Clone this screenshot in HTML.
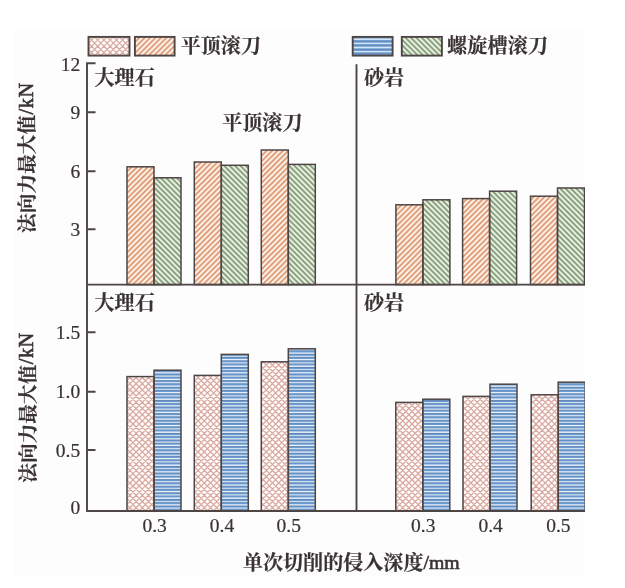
<!DOCTYPE html>
<html lang="zh"><head><meta charset="utf-8"><title>法向力最大值 - 单次切削的侵入深度</title>
<style>
html,body{margin:0;padding:0;background:#fff;}
body{width:625px;height:588px;overflow:hidden;position:relative;font-family:"Liberation Serif",serif;}
svg{display:block;position:absolute;left:0;top:0;}
svg text{font-family:"Liberation Serif","Noto Serif CJK SC",serif;stroke:#3a3232;stroke-width:0.2px;}
svg text.b{stroke-width:0.6px;}
svg text.cjk{font-weight:bold;stroke-width:0.2px;}
.sr{position:absolute;left:0;top:0;width:1px;height:1px;overflow:hidden;opacity:0;font-size:1px;font-family:"Liberation Serif",serif;}
</style></head><body>
<svg width="625" height="588" viewBox="0 0 625 588">
<defs><clipPath id="cpo"><rect x="127" y="166.8" width="27" height="117.8" /><rect x="194.3" y="162" width="27" height="122.6" /><rect x="261.3" y="150" width="27" height="134.6" /><rect x="395.9" y="204.8" width="27" height="79.8" /><rect x="462.6" y="198.6" width="27" height="86" /><rect x="530.5" y="196.2" width="27" height="88.4" /><rect x="134.9" y="36.9" width="39.7" height="18.7" /></clipPath><clipPath id="cpg"><rect x="154" y="177.8" width="27" height="106.8" /><rect x="221.3" y="165.3" width="27" height="119.3" /><rect x="288.3" y="164.4" width="27" height="120.2" /><rect x="422.9" y="199.8" width="27" height="84.8" /><rect x="489.6" y="191.2" width="27" height="93.4" /><rect x="557.5" y="188" width="27" height="96.6" /><rect x="401.8" y="36.9" width="40.1" height="18.7" /></clipPath><clipPath id="cpp"><rect x="127" y="376.6" width="27" height="134.4" /><rect x="194.3" y="375.4" width="27" height="135.6" /><rect x="261.3" y="361.8" width="27" height="149.2" /><rect x="395.8" y="402.4" width="27" height="108.6" /><rect x="463" y="396.4" width="27" height="114.6" /><rect x="531.2" y="394.8" width="27" height="116.2" /><rect x="88.5" y="36.9" width="41" height="18.7" /></clipPath><clipPath id="cpb"><rect x="154" y="370.2" width="27" height="140.8" /><rect x="221.3" y="354.4" width="27" height="156.6" /><rect x="288.3" y="348.8" width="27" height="162.2" /><rect x="422.8" y="399.2" width="27" height="111.8" /><rect x="490" y="384.2" width="27" height="126.8" /><rect x="558.2" y="382.2" width="27" height="128.8" /></clipPath><clipPath id="cpbl"><rect x="352.7" y="36.9" width="39.9" height="18.7" /></clipPath></defs>
<rect width="625" height="588" fill="#ffffff"/><rect x="14" y="30" width="571" height="546" fill="#fdfdfd"/>
<g fill="#fdf3ea"><rect x="127" y="166.8" width="27" height="117.8" /><rect x="194.3" y="162" width="27" height="122.6" /><rect x="261.3" y="150" width="27" height="134.6" /><rect x="395.9" y="204.8" width="27" height="79.8" /><rect x="462.6" y="198.6" width="27" height="86" /><rect x="530.5" y="196.2" width="27" height="88.4" /><rect x="134.9" y="36.9" width="39.7" height="18.7" /></g>
<g clip-path="url(#cpo)" fill="none"><path d="M116.2,55.6L134.9,36.9M121.6,55.6L140.3,36.9M127,55.6L145.7,36.9M132.4,55.6L151.1,36.9M137.8,55.6L156.5,36.9M143.2,55.6L161.9,36.9M148.6,55.6L167.3,36.9M154,55.6L172.7,36.9M159.4,55.6L178.1,36.9M164.8,55.6L183.5,36.9M170.2,55.6L188.9,36.9M-7.6,284.6L127,150M-2.2,284.6L132.4,150M3.2,284.6L137.8,150M8.6,284.6L143.2,150M14,284.6L148.6,150M19.4,284.6L154,150M24.8,284.6L159.4,150M30.2,284.6L164.8,150M35.6,284.6L170.2,150M41,284.6L175.6,150M46.4,284.6L181,150M51.8,284.6L186.4,150M57.2,284.6L191.8,150M62.6,284.6L197.2,150M68,284.6L202.6,150M73.4,284.6L208,150M78.8,284.6L213.4,150M84.2,284.6L218.8,150M89.6,284.6L224.2,150M95,284.6L229.6,150M100.4,284.6L235,150M105.8,284.6L240.4,150M111.2,284.6L245.8,150M116.6,284.6L251.2,150M122,284.6L256.6,150M127.4,284.6L262,150M132.8,284.6L267.4,150M138.2,284.6L272.8,150M143.6,284.6L278.2,150M149,284.6L283.6,150M154.4,284.6L289,150M159.8,284.6L294.4,150M165.2,284.6L299.8,150M170.6,284.6L305.2,150M176,284.6L310.6,150M181.4,284.6L316,150M186.8,284.6L321.4,150M192.2,284.6L326.8,150M197.6,284.6L332.2,150M203,284.6L337.6,150M208.4,284.6L343,150M213.8,284.6L348.4,150M219.2,284.6L353.8,150M224.6,284.6L359.2,150M230,284.6L364.6,150M235.4,284.6L370,150M240.8,284.6L375.4,150M246.2,284.6L380.8,150M251.6,284.6L386.2,150M257,284.6L391.6,150M262.4,284.6L397,150M267.8,284.6L402.4,150M273.2,284.6L407.8,150M278.6,284.6L413.2,150M284,284.6L418.6,150M289.4,284.6L424,150M294.8,284.6L429.4,150M300.2,284.6L434.8,150M305.6,284.6L440.2,150M311,284.6L445.6,150M316.4,284.6L451,150M321.8,284.6L456.4,150M327.2,284.6L461.8,150M332.6,284.6L467.2,150M338,284.6L472.6,150M343.4,284.6L478,150M348.8,284.6L483.4,150M354.2,284.6L488.8,150M359.6,284.6L494.2,150M365,284.6L499.6,150M370.4,284.6L505,150M375.8,284.6L510.4,150M381.2,284.6L515.8,150M386.6,284.6L521.2,150M392,284.6L526.6,150M397.4,284.6L532,150M402.8,284.6L537.4,150M408.2,284.6L542.8,150M413.6,284.6L548.2,150M419,284.6L553.6,150M424.4,284.6L559,150M429.8,284.6L564.4,150M435.2,284.6L569.8,150M440.6,284.6L575.2,150M446,284.6L580.6,150M451.4,284.6L586,150M456.8,284.6L591.4,150M462.2,284.6L596.8,150M467.6,284.6L602.2,150M473,284.6L607.6,150M478.4,284.6L613,150M483.8,284.6L618.4,150M489.2,284.6L623.8,150M494.6,284.6L629.2,150M500,284.6L634.6,150M505.4,284.6L640,150M510.8,284.6L645.4,150M516.2,284.6L650.8,150M521.6,284.6L656.2,150M527,284.6L661.6,150M532.4,284.6L667,150M537.8,284.6L672.4,150M543.2,284.6L677.8,150M548.6,284.6L683.2,150M554,284.6L688.6,150" stroke="#e2a17e" stroke-width="2"/></g>
<g fill="#e4f1dc"><rect x="154" y="177.8" width="27" height="106.8" /><rect x="221.3" y="165.3" width="27" height="119.3" /><rect x="288.3" y="164.4" width="27" height="120.2" /><rect x="422.9" y="199.8" width="27" height="84.8" /><rect x="489.6" y="191.2" width="27" height="93.4" /><rect x="557.5" y="188" width="27" height="96.6" /><rect x="401.8" y="36.9" width="40.1" height="18.7" /></g>
<g clip-path="url(#cpg)" fill="none"><path d="M383.1,36.9L401.8,55.6M388.5,36.9L407.2,55.6M393.9,36.9L412.6,55.6M399.3,36.9L418,55.6M404.7,36.9L423.4,55.6M410.1,36.9L428.8,55.6M415.5,36.9L434.2,55.6M420.9,36.9L439.6,55.6M426.3,36.9L445,55.6M431.7,36.9L450.4,55.6M437.1,36.9L455.8,55.6M33.8,164.4L154,284.6M39.2,164.4L159.4,284.6M44.6,164.4L164.8,284.6M50,164.4L170.2,284.6M55.4,164.4L175.6,284.6M60.8,164.4L181,284.6M66.2,164.4L186.4,284.6M71.6,164.4L191.8,284.6M77,164.4L197.2,284.6M82.4,164.4L202.6,284.6M87.8,164.4L208,284.6M93.2,164.4L213.4,284.6M98.6,164.4L218.8,284.6M104,164.4L224.2,284.6M109.4,164.4L229.6,284.6M114.8,164.4L235,284.6M120.2,164.4L240.4,284.6M125.6,164.4L245.8,284.6M131,164.4L251.2,284.6M136.4,164.4L256.6,284.6M141.8,164.4L262,284.6M147.2,164.4L267.4,284.6M152.6,164.4L272.8,284.6M158,164.4L278.2,284.6M163.4,164.4L283.6,284.6M168.8,164.4L289,284.6M174.2,164.4L294.4,284.6M179.6,164.4L299.8,284.6M185,164.4L305.2,284.6M190.4,164.4L310.6,284.6M195.8,164.4L316,284.6M201.2,164.4L321.4,284.6M206.6,164.4L326.8,284.6M212,164.4L332.2,284.6M217.4,164.4L337.6,284.6M222.8,164.4L343,284.6M228.2,164.4L348.4,284.6M233.6,164.4L353.8,284.6M239,164.4L359.2,284.6M244.4,164.4L364.6,284.6M249.8,164.4L370,284.6M255.2,164.4L375.4,284.6M260.6,164.4L380.8,284.6M266,164.4L386.2,284.6M271.4,164.4L391.6,284.6M276.8,164.4L397,284.6M282.2,164.4L402.4,284.6M287.6,164.4L407.8,284.6M293,164.4L413.2,284.6M298.4,164.4L418.6,284.6M303.8,164.4L424,284.6M309.2,164.4L429.4,284.6M314.6,164.4L434.8,284.6M320,164.4L440.2,284.6M325.4,164.4L445.6,284.6M330.8,164.4L451,284.6M336.2,164.4L456.4,284.6M341.6,164.4L461.8,284.6M347,164.4L467.2,284.6M352.4,164.4L472.6,284.6M357.8,164.4L478,284.6M363.2,164.4L483.4,284.6M368.6,164.4L488.8,284.6M374,164.4L494.2,284.6M379.4,164.4L499.6,284.6M384.8,164.4L505,284.6M390.2,164.4L510.4,284.6M395.6,164.4L515.8,284.6M401,164.4L521.2,284.6M406.4,164.4L526.6,284.6M411.8,164.4L532,284.6M417.2,164.4L537.4,284.6M422.6,164.4L542.8,284.6M428,164.4L548.2,284.6M433.4,164.4L553.6,284.6M438.8,164.4L559,284.6M444.2,164.4L564.4,284.6M449.6,164.4L569.8,284.6M455,164.4L575.2,284.6M460.4,164.4L580.6,284.6M465.8,164.4L586,284.6M471.2,164.4L591.4,284.6M476.6,164.4L596.8,284.6M482,164.4L602.2,284.6M487.4,164.4L607.6,284.6M492.8,164.4L613,284.6M498.2,164.4L618.4,284.6M503.6,164.4L623.8,284.6M509,164.4L629.2,284.6M514.4,164.4L634.6,284.6M519.8,164.4L640,284.6M525.2,164.4L645.4,284.6M530.6,164.4L650.8,284.6M536,164.4L656.2,284.6M541.4,164.4L661.6,284.6M546.8,164.4L667,284.6M552.2,164.4L672.4,284.6M557.6,164.4L677.8,284.6M563,164.4L683.2,284.6M568.4,164.4L688.6,284.6M573.8,164.4L694,284.6M579.2,164.4L699.4,284.6" stroke="#8c9d81" stroke-width="1.85"/></g>
<g fill="#fffdfc"><rect x="127" y="376.6" width="27" height="134.4" /><rect x="194.3" y="375.4" width="27" height="135.6" /><rect x="261.3" y="361.8" width="27" height="149.2" /><rect x="395.8" y="402.4" width="27" height="108.6" /><rect x="463" y="396.4" width="27" height="114.6" /><rect x="531.2" y="394.8" width="27" height="116.2" /><rect x="88.5" y="36.9" width="41" height="18.7" /></g>
<g clip-path="url(#cpp)" fill="none"><path d="M69.8,55.6L88.5,36.9M76,55.6L94.7,36.9M82.2,55.6L100.9,36.9M88.4,55.6L107.1,36.9M94.6,55.6L113.3,36.9M100.8,55.6L119.5,36.9M107,55.6L125.7,36.9M113.2,55.6L131.9,36.9M119.4,55.6L138.1,36.9M125.6,55.6L144.3,36.9M69.8,36.9L88.5,55.6M76,36.9L94.7,55.6M82.2,36.9L100.9,55.6M88.4,36.9L107.1,55.6M94.6,36.9L113.3,55.6M100.8,36.9L119.5,55.6M107,36.9L125.7,55.6M113.2,36.9L131.9,55.6M119.4,36.9L138.1,55.6M125.6,36.9L144.3,55.6M-22.2,511L127,361.8M-16,511L133.2,361.8M-9.8,511L139.4,361.8M-3.6,511L145.6,361.8M2.6,511L151.8,361.8M8.8,511L158,361.8M15,511L164.2,361.8M21.2,511L170.4,361.8M27.4,511L176.6,361.8M33.6,511L182.8,361.8M39.8,511L189,361.8M46,511L195.2,361.8M52.2,511L201.4,361.8M58.4,511L207.6,361.8M64.6,511L213.8,361.8M70.8,511L220,361.8M77,511L226.2,361.8M83.2,511L232.4,361.8M89.4,511L238.6,361.8M95.6,511L244.8,361.8M101.8,511L251,361.8M108,511L257.2,361.8M114.2,511L263.4,361.8M120.4,511L269.6,361.8M126.6,511L275.8,361.8M132.8,511L282,361.8M139,511L288.2,361.8M145.2,511L294.4,361.8M151.4,511L300.6,361.8M157.6,511L306.8,361.8M163.8,511L313,361.8M170,511L319.2,361.8M176.2,511L325.4,361.8M182.4,511L331.6,361.8M188.6,511L337.8,361.8M194.8,511L344,361.8M201,511L350.2,361.8M207.2,511L356.4,361.8M213.4,511L362.6,361.8M219.6,511L368.8,361.8M225.8,511L375,361.8M232,511L381.2,361.8M238.2,511L387.4,361.8M244.4,511L393.6,361.8M250.6,511L399.8,361.8M256.8,511L406,361.8M263,511L412.2,361.8M269.2,511L418.4,361.8M275.4,511L424.6,361.8M281.6,511L430.8,361.8M287.8,511L437,361.8M294,511L443.2,361.8M300.2,511L449.4,361.8M306.4,511L455.6,361.8M312.6,511L461.8,361.8M318.8,511L468,361.8M325,511L474.2,361.8M331.2,511L480.4,361.8M337.4,511L486.6,361.8M343.6,511L492.8,361.8M349.8,511L499,361.8M356,511L505.2,361.8M362.2,511L511.4,361.8M368.4,511L517.6,361.8M374.6,511L523.8,361.8M380.8,511L530,361.8M387,511L536.2,361.8M393.2,511L542.4,361.8M399.4,511L548.6,361.8M405.6,511L554.8,361.8M411.8,511L561,361.8M418,511L567.2,361.8M424.2,511L573.4,361.8M430.4,511L579.6,361.8M436.6,511L585.8,361.8M442.8,511L592,361.8M449,511L598.2,361.8M455.2,511L604.4,361.8M461.4,511L610.6,361.8M467.6,511L616.8,361.8M473.8,511L623,361.8M480,511L629.2,361.8M486.2,511L635.4,361.8M492.4,511L641.6,361.8M498.6,511L647.8,361.8M504.8,511L654,361.8M511,511L660.2,361.8M517.2,511L666.4,361.8M523.4,511L672.6,361.8M529.6,511L678.8,361.8M535.8,511L685,361.8M542,511L691.2,361.8M548.2,511L697.4,361.8M554.4,511L703.6,361.8M-22.2,361.8L127,511M-16,361.8L133.2,511M-9.8,361.8L139.4,511M-3.6,361.8L145.6,511M2.6,361.8L151.8,511M8.8,361.8L158,511M15,361.8L164.2,511M21.2,361.8L170.4,511M27.4,361.8L176.6,511M33.6,361.8L182.8,511M39.8,361.8L189,511M46,361.8L195.2,511M52.2,361.8L201.4,511M58.4,361.8L207.6,511M64.6,361.8L213.8,511M70.8,361.8L220,511M77,361.8L226.2,511M83.2,361.8L232.4,511M89.4,361.8L238.6,511M95.6,361.8L244.8,511M101.8,361.8L251,511M108,361.8L257.2,511M114.2,361.8L263.4,511M120.4,361.8L269.6,511M126.6,361.8L275.8,511M132.8,361.8L282,511M139,361.8L288.2,511M145.2,361.8L294.4,511M151.4,361.8L300.6,511M157.6,361.8L306.8,511M163.8,361.8L313,511M170,361.8L319.2,511M176.2,361.8L325.4,511M182.4,361.8L331.6,511M188.6,361.8L337.8,511M194.8,361.8L344,511M201,361.8L350.2,511M207.2,361.8L356.4,511M213.4,361.8L362.6,511M219.6,361.8L368.8,511M225.8,361.8L375,511M232,361.8L381.2,511M238.2,361.8L387.4,511M244.4,361.8L393.6,511M250.6,361.8L399.8,511M256.8,361.8L406,511M263,361.8L412.2,511M269.2,361.8L418.4,511M275.4,361.8L424.6,511M281.6,361.8L430.8,511M287.8,361.8L437,511M294,361.8L443.2,511M300.2,361.8L449.4,511M306.4,361.8L455.6,511M312.6,361.8L461.8,511M318.8,361.8L468,511M325,361.8L474.2,511M331.2,361.8L480.4,511M337.4,361.8L486.6,511M343.6,361.8L492.8,511M349.8,361.8L499,511M356,361.8L505.2,511M362.2,361.8L511.4,511M368.4,361.8L517.6,511M374.6,361.8L523.8,511M380.8,361.8L530,511M387,361.8L536.2,511M393.2,361.8L542.4,511M399.4,361.8L548.6,511M405.6,361.8L554.8,511M411.8,361.8L561,511M418,361.8L567.2,511M424.2,361.8L573.4,511M430.4,361.8L579.6,511M436.6,361.8L585.8,511M442.8,361.8L592,511M449,361.8L598.2,511M455.2,361.8L604.4,511M461.4,361.8L610.6,511M467.6,361.8L616.8,511M473.8,361.8L623,511M480,361.8L629.2,511M486.2,361.8L635.4,511M492.4,361.8L641.6,511M498.6,361.8L647.8,511M504.8,361.8L654,511M511,361.8L660.2,511M517.2,361.8L666.4,511M523.4,361.8L672.6,511M529.6,361.8L678.8,511M535.8,361.8L685,511M542,361.8L691.2,511M548.2,361.8L697.4,511M554.4,361.8L703.6,511" stroke="#d0938a" stroke-opacity="0.8" stroke-width="1.3"/></g>
<g fill="#6c9cd8"><rect x="154" y="370.2" width="27" height="140.8" /><rect x="221.3" y="354.4" width="27" height="156.6" /><rect x="288.3" y="348.8" width="27" height="162.2" /><rect x="422.8" y="399.2" width="27" height="111.8" /><rect x="490" y="384.2" width="27" height="126.8" /><rect x="558.2" y="382.2" width="27" height="128.8" /></g>
<g clip-path="url(#cpb)" fill="none"><path d="M154,346.55H585.2M154,353.15H585.2M154,359.75H585.2M154,366.35H585.2M154,372.95H585.2M154,379.55H585.2M154,386.15H585.2M154,392.75H585.2M154,399.35H585.2M154,405.95H585.2M154,412.55H585.2M154,419.15H585.2M154,425.75H585.2M154,432.35H585.2M154,438.95H585.2M154,445.55H585.2M154,452.15H585.2M154,458.75H585.2M154,465.35H585.2M154,471.95H585.2M154,478.55H585.2M154,485.15H585.2M154,491.75H585.2M154,498.35H585.2M154,504.95H585.2M154,511.55H585.2" stroke="#e6f1fa" stroke-width="1.5"/><path d="M154,347.6H585.2M154,354.2H585.2M154,360.8H585.2M154,367.4H585.2M154,374H585.2M154,380.6H585.2M154,387.2H585.2M154,393.8H585.2M154,400.4H585.2M154,407H585.2M154,413.6H585.2M154,420.2H585.2M154,426.8H585.2M154,433.4H585.2M154,440H585.2M154,446.6H585.2M154,453.2H585.2M154,459.8H585.2M154,466.4H585.2M154,473H585.2M154,479.6H585.2M154,486.2H585.2M154,492.8H585.2M154,499.4H585.2M154,506H585.2M154,512.6H585.2" stroke="#5a7396" stroke-width="0.6"/><path d="M154,349.8H585.2M154,356.4H585.2M154,363H585.2M154,369.6H585.2M154,376.2H585.2M154,382.8H585.2M154,389.4H585.2M154,396H585.2M154,402.6H585.2M154,409.2H585.2M154,415.8H585.2M154,422.4H585.2M154,429H585.2M154,435.6H585.2M154,442.2H585.2M154,448.8H585.2M154,455.4H585.2M154,462H585.2M154,468.6H585.2M154,475.2H585.2M154,481.8H585.2M154,488.4H585.2M154,495H585.2M154,501.6H585.2M154,508.2H585.2M154,514.8H585.2" stroke="#cbdff0" stroke-width="1.4"/><path d="M154,350.75H585.2M154,357.35H585.2M154,363.95H585.2M154,370.55H585.2M154,377.15H585.2M154,383.75H585.2M154,390.35H585.2M154,396.95H585.2M154,403.55H585.2M154,410.15H585.2M154,416.75H585.2M154,423.35H585.2M154,429.95H585.2M154,436.55H585.2M154,443.15H585.2M154,449.75H585.2M154,456.35H585.2M154,462.95H585.2M154,469.55H585.2M154,476.15H585.2M154,482.75H585.2M154,489.35H585.2M154,495.95H585.2M154,502.55H585.2M154,509.15H585.2M154,515.75H585.2" stroke="#62809f" stroke-width="0.5"/></g>
<g fill="#74a2d9"><rect x="352.7" y="36.9" width="39.9" height="18.7" /></g>
<g clip-path="url(#cpbl)" fill="none"><path d="M352.7,39.3H392.6M352.7,43.4H392.6M352.7,47.5H392.6M352.7,51.6H392.6M352.7,55.7H392.6" stroke="#d3e5f4" stroke-width="1.4"/><path d="M352.7,41.4H392.6M352.7,45.5H392.6M352.7,49.6H392.6M352.7,53.7H392.6M352.7,57.8H392.6" stroke="#5a769c" stroke-width="0.6"/></g>
<g fill="none" stroke="#4e4545" stroke-width="1.5"><rect x="127" y="166.8" width="27" height="117.8" /><rect x="194.3" y="162" width="27" height="122.6" /><rect x="261.3" y="150" width="27" height="134.6" /><rect x="395.9" y="204.8" width="27" height="79.8" /><rect x="462.6" y="198.6" width="27" height="86" /><rect x="530.5" y="196.2" width="27" height="88.4" /><rect x="154" y="177.8" width="27" height="106.8" /><rect x="221.3" y="165.3" width="27" height="119.3" /><rect x="288.3" y="164.4" width="27" height="120.2" /><rect x="422.9" y="199.8" width="27" height="84.8" /><rect x="489.6" y="191.2" width="27" height="93.4" /><rect x="557.5" y="188" width="27" height="96.6" /><rect x="127" y="376.6" width="27" height="134.4" /><rect x="194.3" y="375.4" width="27" height="135.6" /><rect x="261.3" y="361.8" width="27" height="149.2" /><rect x="395.8" y="402.4" width="27" height="108.6" /><rect x="463" y="396.4" width="27" height="114.6" /><rect x="531.2" y="394.8" width="27" height="116.2" /><rect x="154" y="370.2" width="27" height="140.8" /><rect x="221.3" y="354.4" width="27" height="156.6" /><rect x="288.3" y="348.8" width="27" height="162.2" /><rect x="422.8" y="399.2" width="27" height="111.8" /><rect x="490" y="384.2" width="27" height="126.8" /><rect x="558.2" y="382.2" width="27" height="128.8" /></g>
<g fill="none" stroke="#4e4545" stroke-width="1.9"><rect x="134.9" y="36.9" width="39.7" height="18.7" /><rect x="401.8" y="36.9" width="40.1" height="18.7" /><rect x="88.5" y="36.9" width="41" height="18.7" /><rect x="352.7" y="36.9" width="39.9" height="18.7" /></g>
<g stroke="#4e4545" stroke-width="1.9" fill="none">
<path d="M95.5,63.3 H87.0 V511.0 H585.0"/>
<path d="M87.0,284.6 H585.0"/>
<path d="M356.5,64.3 V511.0"/>
<path d="M87.0,112.3h8.5M87.0,171.3h8.5M87.0,229.3h8.5M87.0,332.3h8.5M87.0,391.8h8.5M87.0,450.0h8.5"/>
</g>
<g fill="#3a3232" opacity="0.999">
<text class="cjk" x="180.80" y="52.92" font-size="20.05">平顶滚刀</text>
<text class="cjk" x="447.10" y="52.92" font-size="20.05" letter-spacing="0.2">螺旋槽滚刀</text>
<text class="cjk" x="222.30" y="129.82" font-size="20.05">平顶滚刀</text>
<text class="cjk" x="94.60" y="84.62" font-size="20.05">大理石</text>
<text class="cjk" x="364.00" y="84.62" font-size="20.05">砂岩</text>
<text class="cjk" x="94.60" y="310.42" font-size="20.05">大理石</text>
<text class="cjk" x="364.00" y="310.42" font-size="20.05">砂岩</text>
<text class="cjk" x="242.90" y="570.42" font-size="20.05" letter-spacing="0.03">单次切削的侵入深度</text>
<text x="423.42" y="569.32" font-size="19.8" class="b">/mm</text>
<g transform="translate(26.9,233.0) rotate(-90)"><text class="cjk" x="0" y="7.45" font-size="19.6" letter-spacing="0.12">法向力最大值</text><text x="118.52" y="5.65" font-size="20.3" letter-spacing="0.55" style="stroke-width:0.6px">/kN</text></g>
<g transform="translate(27.4,482.8) rotate(-90)"><text class="cjk" x="0" y="7.45" font-size="19.6" letter-spacing="0.12">法向力最大值</text><text x="118.52" y="5.65" font-size="20.3" letter-spacing="0.55" style="stroke-width:0.6px">/kN</text></g>
<text x="80.20" y="70.60" font-size="19.5" text-anchor="end" >12</text>
<text x="80.20" y="118.90" font-size="19.5" text-anchor="end" >9</text>
<text x="80.20" y="177.60" font-size="19.5" text-anchor="end" >6</text>
<text x="80.20" y="235.60" font-size="19.5" text-anchor="end" >3</text>
<text x="80.20" y="338.80" font-size="19.5" text-anchor="end" >1.5</text>
<text x="80.20" y="398.30" font-size="19.5" text-anchor="end" >1.0</text>
<text x="80.20" y="456.60" font-size="19.5" text-anchor="end" >0.5</text>
<text x="80.20" y="513.90" font-size="19.5" text-anchor="end" >0</text>
<text x="154.60" y="532.10" font-size="19.5" text-anchor="middle" >0.3</text>
<text x="222.00" y="532.10" font-size="19.5" text-anchor="middle" >0.4</text>
<text x="288.70" y="532.10" font-size="19.5" text-anchor="middle" >0.5</text>
<text x="423.20" y="532.10" font-size="19.5" text-anchor="middle" >0.3</text>
<text x="490.60" y="532.10" font-size="19.5" text-anchor="middle" >0.4</text>
<text x="558.40" y="532.10" font-size="19.5" text-anchor="middle" >0.5</text>
</g>
<rect x="585" y="0" width="40" height="588" fill="#fff"/>
</svg>
<div class="sr">平顶滚刀 螺旋槽滚刀 大理石 砂岩 平顶滚刀 法向力最大值/kN 大理石 砂岩 法向力最大值/kN 单次切削的侵入深度/mm</div>
</body></html>
